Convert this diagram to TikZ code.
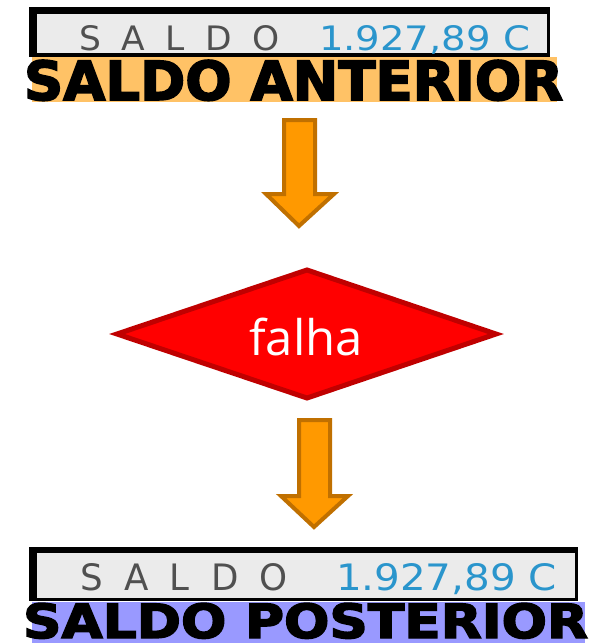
\documentclass[tikz,border=0pt]{standalone}
\usepackage{fontspec}
\newfontfamily\heavyfont{DejaVu Sans Bold}[FakeBold=3]
\newfontfamily\dispfont{DejaVu Sans}
\newfontfamily\diafont{Open Sans}
\definecolor{dispbg}{HTML}{EBEBEB}
\definecolor{dispgray}{HTML}{505050}
\definecolor{dispblue}{HTML}{2A95CC}
\definecolor{labelorange}{HTML}{FFC266}
\definecolor{labelblue}{HTML}{9999FF}
\definecolor{arrowfill}{HTML}{FF9900}
\definecolor{arrowline}{HTML}{C07000}
\definecolor{diafill}{HTML}{FF0000}
\definecolor{dialine}{HTML}{C00000}
\tikzset{
  plain/.style={inner sep=0pt, outer sep=0pt, anchor=base west},
  blockarrow/.style={fill=arrowfill, draw=arrowline, line width=4pt, line join=miter},
  decision/.style={fill=diafill, draw=dialine, line width=5pt, line join=miter},
}
\begin{document}
\begin{tikzpicture}[x=1pt,y=-1pt]
\useasboundingbox (0,0) rectangle (596,643);
% top display
\fill[black] (29,7) rectangle (550,57);
\fill[dispbg] (37,14) rectangle (547,53);
\node[plain, text=dispgray] (saldoA) at (79,50) {\resizebox{201pt}{25pt}{\dispfont S\hspace{0.6em}A\hspace{0.6em}L\hspace{0.6em}D\hspace{0.6em}O}};
\node[plain, text=dispblue] (valA) at (319,50) {\resizebox{211pt}{25pt}{\dispfont 1.927,89 C}};
% top label
\fill[labelorange] (32,57) rectangle (557,102);
\node[plain] (ant) at (24,100) {\resizebox{539pt}{40pt}{\heavyfont SALDO ANTERIOR}};
% arrow 1
\draw[blockarrow] (284,120) -- (315,120) -- (315,194) -- (334,194) -- (299,226) -- (266,194) -- (284,194) -- cycle;
% decision
\draw[decision] (117,334) -- (307,270) -- (496,334) -- (307,398) -- cycle;
\node[anchor=base, inner sep=0pt, text=white, font=\diafont\fontsize{49}{49}\selectfont] (falha) at (306,355) {falha};
% arrow 2
\draw[blockarrow] (299,420) -- (330,420) -- (330,496) -- (348,496) -- (314,527) -- (281,496) -- (299,496) -- cycle;
% bottom display
\fill[black] (29,547) rectangle (578,601);
\fill[dispbg] (37,553) rectangle (575,598);
\node[plain, text=dispgray] (saldoB) at (80,590) {\resizebox{208pt}{27pt}{\dispfont S\hspace{0.6em}A\hspace{0.6em}L\hspace{0.6em}D\hspace{0.6em}O}};
\node[plain, text=dispblue] (valB) at (336,590) {\resizebox{221pt}{27pt}{\dispfont 1.927,89 C}};
% bottom label
\fill[labelblue] (32,602) rectangle (585,643);
\node[plain] (post) at (23,638) {\resizebox{565pt}{35pt}{\heavyfont SALDO POSTERIOR}};
\end{tikzpicture}
\end{document}
